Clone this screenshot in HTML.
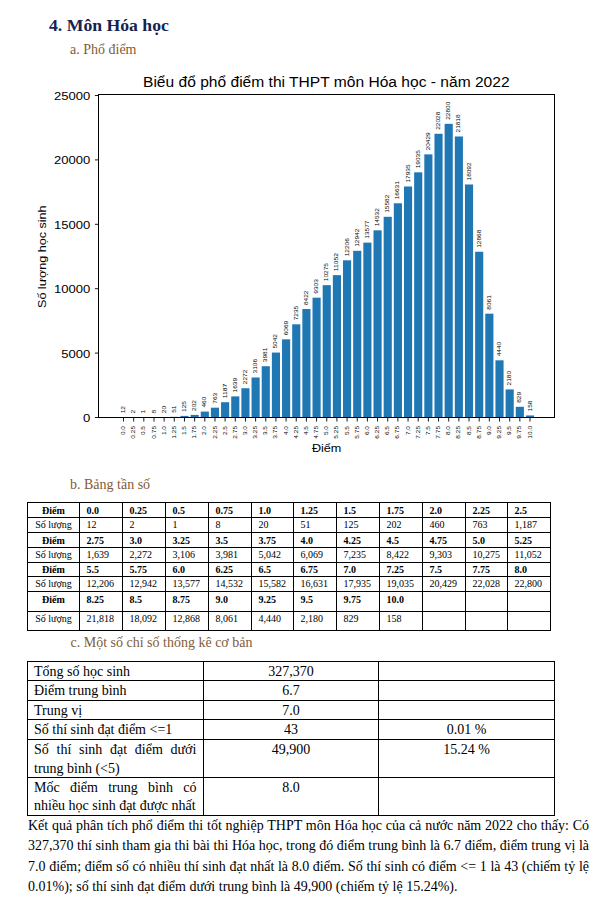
<!DOCTYPE html>
<html><head><meta charset="utf-8"><style>
html,body{margin:0;padding:0;background:#fff;}
body{width:603px;height:908px;position:relative;overflow:hidden;font-family:"Liberation Serif",serif;color:#000;}
.t{position:absolute;white-space:nowrap;}
.h{font-weight:bold;color:#13244f;}
.s{color:#7f5c38;}
.b{font-weight:bold;}
.j{text-align:justify;text-align-last:justify;}
</style></head><body>
<div class="t h" style="left:49px;top:17px;font-size:17.7px;line-height:17.7px;">4. Môn Hóa học</div>
<div class="t s" style="left:70px;top:43px;font-size:14px;line-height:14px;">a. Phổ điểm</div>
<svg width="603" height="470" viewBox="0 0 603 470" style="position:absolute;left:0;top:0" font-family="Liberation Sans, sans-serif" fill="#000">
<rect x="119.44" y="417.35" width="8.13" height="0.15" fill="#1f77b4"/>
<rect x="129.60" y="417.47" width="8.13" height="0.03" fill="#1f77b4"/>
<rect x="139.76" y="417.49" width="8.13" height="0.01" fill="#1f77b4"/>
<rect x="149.92" y="417.40" width="8.13" height="0.10" fill="#1f77b4"/>
<rect x="160.09" y="417.24" width="8.13" height="0.26" fill="#1f77b4"/>
<rect x="170.25" y="416.84" width="8.13" height="0.66" fill="#1f77b4"/>
<rect x="180.41" y="415.89" width="8.13" height="1.61" fill="#1f77b4"/>
<rect x="190.57" y="414.90" width="8.13" height="2.60" fill="#1f77b4"/>
<rect x="200.74" y="411.58" width="8.13" height="5.92" fill="#1f77b4"/>
<rect x="210.90" y="407.67" width="8.13" height="9.83" fill="#1f77b4"/>
<rect x="221.06" y="402.21" width="8.13" height="15.29" fill="#1f77b4"/>
<rect x="231.22" y="396.39" width="8.13" height="21.11" fill="#1f77b4"/>
<rect x="241.38" y="388.24" width="8.13" height="29.26" fill="#1f77b4"/>
<rect x="251.55" y="377.49" width="8.13" height="40.01" fill="#1f77b4"/>
<rect x="261.71" y="366.22" width="8.13" height="51.28" fill="#1f77b4"/>
<rect x="271.87" y="352.56" width="8.13" height="64.94" fill="#1f77b4"/>
<rect x="282.04" y="339.33" width="8.13" height="78.17" fill="#1f77b4"/>
<rect x="292.20" y="324.31" width="8.13" height="93.19" fill="#1f77b4"/>
<rect x="302.36" y="309.02" width="8.13" height="108.48" fill="#1f77b4"/>
<rect x="312.52" y="297.68" width="8.13" height="119.82" fill="#1f77b4"/>
<rect x="322.69" y="285.16" width="8.13" height="132.34" fill="#1f77b4"/>
<rect x="332.85" y="275.15" width="8.13" height="142.35" fill="#1f77b4"/>
<rect x="343.01" y="260.29" width="8.13" height="157.21" fill="#1f77b4"/>
<rect x="353.17" y="250.81" width="8.13" height="166.69" fill="#1f77b4"/>
<rect x="363.33" y="242.63" width="8.13" height="174.87" fill="#1f77b4"/>
<rect x="373.50" y="230.33" width="8.13" height="187.17" fill="#1f77b4"/>
<rect x="383.66" y="216.80" width="8.13" height="200.70" fill="#1f77b4"/>
<rect x="393.82" y="203.29" width="8.13" height="214.21" fill="#1f77b4"/>
<rect x="403.99" y="186.50" width="8.13" height="231.00" fill="#1f77b4"/>
<rect x="414.15" y="172.33" width="8.13" height="245.17" fill="#1f77b4"/>
<rect x="424.31" y="154.37" width="8.13" height="263.13" fill="#1f77b4"/>
<rect x="434.47" y="133.78" width="8.13" height="283.72" fill="#1f77b4"/>
<rect x="444.63" y="123.84" width="8.13" height="293.66" fill="#1f77b4"/>
<rect x="454.80" y="136.48" width="8.13" height="281.02" fill="#1f77b4"/>
<rect x="464.96" y="184.48" width="8.13" height="233.02" fill="#1f77b4"/>
<rect x="475.12" y="251.76" width="8.13" height="165.74" fill="#1f77b4"/>
<rect x="485.28" y="313.67" width="8.13" height="103.83" fill="#1f77b4"/>
<rect x="495.45" y="360.31" width="8.13" height="57.19" fill="#1f77b4"/>
<rect x="505.61" y="389.42" width="8.13" height="28.08" fill="#1f77b4"/>
<rect x="515.77" y="406.82" width="8.13" height="10.68" fill="#1f77b4"/>
<rect x="525.93" y="415.46" width="8.13" height="2.04" fill="#1f77b4"/>
<rect x="98.5" y="94.5" width="456.00" height="323.00" fill="none" stroke="#000" stroke-width="1"/>
<line x1="94.90" y1="417.50" x2="98.5" y2="417.50" stroke="#000" stroke-width="0.9"/>
<text x="90.2" y="422.00" font-size="11.4" text-anchor="end" textLength="7.3" lengthAdjust="spacingAndGlyphs">0</text>
<line x1="94.90" y1="353.10" x2="98.5" y2="353.10" stroke="#000" stroke-width="0.9"/>
<text x="90.2" y="357.60" font-size="11.4" text-anchor="end" textLength="29.0" lengthAdjust="spacingAndGlyphs">5000</text>
<line x1="94.90" y1="288.70" x2="98.5" y2="288.70" stroke="#000" stroke-width="0.9"/>
<text x="90.2" y="293.20" font-size="11.4" text-anchor="end" textLength="36.3" lengthAdjust="spacingAndGlyphs">10000</text>
<line x1="94.90" y1="224.30" x2="98.5" y2="224.30" stroke="#000" stroke-width="0.9"/>
<text x="90.2" y="228.80" font-size="11.4" text-anchor="end" textLength="36.3" lengthAdjust="spacingAndGlyphs">15000</text>
<line x1="94.90" y1="159.90" x2="98.5" y2="159.90" stroke="#000" stroke-width="0.9"/>
<text x="90.2" y="164.40" font-size="11.4" text-anchor="end" textLength="36.3" lengthAdjust="spacingAndGlyphs">20000</text>
<line x1="94.90" y1="95.50" x2="98.5" y2="95.50" stroke="#000" stroke-width="0.9"/>
<text x="90.2" y="100.00" font-size="11.4" text-anchor="end" textLength="36.3" lengthAdjust="spacingAndGlyphs">25000</text>
<line x1="123.50" y1="417.5" x2="123.50" y2="421.50" stroke="#000" stroke-width="0.9"/>
<text transform="translate(125.05,426) rotate(-90)" font-size="5.7" text-anchor="end" textLength="9.1" lengthAdjust="spacingAndGlyphs">0.0</text>
<text transform="translate(125.05,413.35) rotate(-90)" font-size="5.7" textLength="7.3" lengthAdjust="spacingAndGlyphs">12</text>
<line x1="133.66" y1="417.5" x2="133.66" y2="421.50" stroke="#000" stroke-width="0.9"/>
<text transform="translate(135.21,426) rotate(-90)" font-size="5.7" text-anchor="end" textLength="12.7" lengthAdjust="spacingAndGlyphs">0.25</text>
<text transform="translate(135.21,413.47) rotate(-90)" font-size="5.7" textLength="3.6" lengthAdjust="spacingAndGlyphs">2</text>
<line x1="143.82" y1="417.5" x2="143.82" y2="421.50" stroke="#000" stroke-width="0.9"/>
<text transform="translate(145.38,426) rotate(-90)" font-size="5.7" text-anchor="end" textLength="9.1" lengthAdjust="spacingAndGlyphs">0.5</text>
<text transform="translate(145.38,413.49) rotate(-90)" font-size="5.7" textLength="3.6" lengthAdjust="spacingAndGlyphs">1</text>
<line x1="153.99" y1="417.5" x2="153.99" y2="421.50" stroke="#000" stroke-width="0.9"/>
<text transform="translate(155.54,426) rotate(-90)" font-size="5.7" text-anchor="end" textLength="12.7" lengthAdjust="spacingAndGlyphs">0.75</text>
<text transform="translate(155.54,413.40) rotate(-90)" font-size="5.7" textLength="3.6" lengthAdjust="spacingAndGlyphs">8</text>
<line x1="164.15" y1="417.5" x2="164.15" y2="421.50" stroke="#000" stroke-width="0.9"/>
<text transform="translate(165.70,426) rotate(-90)" font-size="5.7" text-anchor="end" textLength="9.1" lengthAdjust="spacingAndGlyphs">1.0</text>
<text transform="translate(165.70,413.24) rotate(-90)" font-size="5.7" textLength="7.3" lengthAdjust="spacingAndGlyphs">20</text>
<line x1="174.31" y1="417.5" x2="174.31" y2="421.50" stroke="#000" stroke-width="0.9"/>
<text transform="translate(175.86,426) rotate(-90)" font-size="5.7" text-anchor="end" textLength="12.7" lengthAdjust="spacingAndGlyphs">1.25</text>
<text transform="translate(175.86,412.84) rotate(-90)" font-size="5.7" textLength="7.3" lengthAdjust="spacingAndGlyphs">51</text>
<line x1="184.47" y1="417.5" x2="184.47" y2="421.50" stroke="#000" stroke-width="0.9"/>
<text transform="translate(186.03,426) rotate(-90)" font-size="5.7" text-anchor="end" textLength="9.1" lengthAdjust="spacingAndGlyphs">1.5</text>
<text transform="translate(186.03,411.89) rotate(-90)" font-size="5.7" textLength="10.9" lengthAdjust="spacingAndGlyphs">125</text>
<line x1="194.64" y1="417.5" x2="194.64" y2="421.50" stroke="#000" stroke-width="0.9"/>
<text transform="translate(196.19,426) rotate(-90)" font-size="5.7" text-anchor="end" textLength="12.7" lengthAdjust="spacingAndGlyphs">1.75</text>
<text transform="translate(196.19,410.90) rotate(-90)" font-size="5.7" textLength="10.9" lengthAdjust="spacingAndGlyphs">202</text>
<line x1="204.80" y1="417.5" x2="204.80" y2="421.50" stroke="#000" stroke-width="0.9"/>
<text transform="translate(206.35,426) rotate(-90)" font-size="5.7" text-anchor="end" textLength="9.1" lengthAdjust="spacingAndGlyphs">2.0</text>
<text transform="translate(206.35,407.58) rotate(-90)" font-size="5.7" textLength="10.9" lengthAdjust="spacingAndGlyphs">460</text>
<line x1="214.96" y1="417.5" x2="214.96" y2="421.50" stroke="#000" stroke-width="0.9"/>
<text transform="translate(216.51,426) rotate(-90)" font-size="5.7" text-anchor="end" textLength="12.7" lengthAdjust="spacingAndGlyphs">2.25</text>
<text transform="translate(216.51,403.67) rotate(-90)" font-size="5.7" textLength="10.9" lengthAdjust="spacingAndGlyphs">763</text>
<line x1="225.12" y1="417.5" x2="225.12" y2="421.50" stroke="#000" stroke-width="0.9"/>
<text transform="translate(226.68,426) rotate(-90)" font-size="5.7" text-anchor="end" textLength="9.1" lengthAdjust="spacingAndGlyphs">2.5</text>
<text transform="translate(226.68,398.21) rotate(-90)" font-size="5.7" textLength="14.5" lengthAdjust="spacingAndGlyphs">1187</text>
<line x1="235.29" y1="417.5" x2="235.29" y2="421.50" stroke="#000" stroke-width="0.9"/>
<text transform="translate(236.84,426) rotate(-90)" font-size="5.7" text-anchor="end" textLength="12.7" lengthAdjust="spacingAndGlyphs">2.75</text>
<text transform="translate(236.84,392.39) rotate(-90)" font-size="5.7" textLength="14.5" lengthAdjust="spacingAndGlyphs">1639</text>
<line x1="245.45" y1="417.5" x2="245.45" y2="421.50" stroke="#000" stroke-width="0.9"/>
<text transform="translate(247.00,426) rotate(-90)" font-size="5.7" text-anchor="end" textLength="9.1" lengthAdjust="spacingAndGlyphs">3.0</text>
<text transform="translate(247.00,384.24) rotate(-90)" font-size="5.7" textLength="14.5" lengthAdjust="spacingAndGlyphs">2272</text>
<line x1="255.61" y1="417.5" x2="255.61" y2="421.50" stroke="#000" stroke-width="0.9"/>
<text transform="translate(257.16,426) rotate(-90)" font-size="5.7" text-anchor="end" textLength="12.7" lengthAdjust="spacingAndGlyphs">3.25</text>
<text transform="translate(257.16,373.49) rotate(-90)" font-size="5.7" textLength="14.5" lengthAdjust="spacingAndGlyphs">3106</text>
<line x1="265.77" y1="417.5" x2="265.77" y2="421.50" stroke="#000" stroke-width="0.9"/>
<text transform="translate(267.32,426) rotate(-90)" font-size="5.7" text-anchor="end" textLength="9.1" lengthAdjust="spacingAndGlyphs">3.5</text>
<text transform="translate(267.32,362.22) rotate(-90)" font-size="5.7" textLength="14.5" lengthAdjust="spacingAndGlyphs">3981</text>
<line x1="275.94" y1="417.5" x2="275.94" y2="421.50" stroke="#000" stroke-width="0.9"/>
<text transform="translate(277.49,426) rotate(-90)" font-size="5.7" text-anchor="end" textLength="12.7" lengthAdjust="spacingAndGlyphs">3.75</text>
<text transform="translate(277.49,348.56) rotate(-90)" font-size="5.7" textLength="14.5" lengthAdjust="spacingAndGlyphs">5042</text>
<line x1="286.10" y1="417.5" x2="286.10" y2="421.50" stroke="#000" stroke-width="0.9"/>
<text transform="translate(287.65,426) rotate(-90)" font-size="5.7" text-anchor="end" textLength="9.1" lengthAdjust="spacingAndGlyphs">4.0</text>
<text transform="translate(287.65,335.33) rotate(-90)" font-size="5.7" textLength="14.5" lengthAdjust="spacingAndGlyphs">6069</text>
<line x1="296.26" y1="417.5" x2="296.26" y2="421.50" stroke="#000" stroke-width="0.9"/>
<text transform="translate(297.81,426) rotate(-90)" font-size="5.7" text-anchor="end" textLength="12.7" lengthAdjust="spacingAndGlyphs">4.25</text>
<text transform="translate(297.81,320.31) rotate(-90)" font-size="5.7" textLength="14.5" lengthAdjust="spacingAndGlyphs">7235</text>
<line x1="306.42" y1="417.5" x2="306.42" y2="421.50" stroke="#000" stroke-width="0.9"/>
<text transform="translate(307.97,426) rotate(-90)" font-size="5.7" text-anchor="end" textLength="9.1" lengthAdjust="spacingAndGlyphs">4.5</text>
<text transform="translate(307.97,305.02) rotate(-90)" font-size="5.7" textLength="14.5" lengthAdjust="spacingAndGlyphs">8422</text>
<line x1="316.59" y1="417.5" x2="316.59" y2="421.50" stroke="#000" stroke-width="0.9"/>
<text transform="translate(318.14,426) rotate(-90)" font-size="5.7" text-anchor="end" textLength="12.7" lengthAdjust="spacingAndGlyphs">4.75</text>
<text transform="translate(318.14,293.68) rotate(-90)" font-size="5.7" textLength="14.5" lengthAdjust="spacingAndGlyphs">9303</text>
<line x1="326.75" y1="417.5" x2="326.75" y2="421.50" stroke="#000" stroke-width="0.9"/>
<text transform="translate(328.30,426) rotate(-90)" font-size="5.7" text-anchor="end" textLength="9.1" lengthAdjust="spacingAndGlyphs">5.0</text>
<text transform="translate(328.30,281.16) rotate(-90)" font-size="5.7" textLength="18.1" lengthAdjust="spacingAndGlyphs">10275</text>
<line x1="336.91" y1="417.5" x2="336.91" y2="421.50" stroke="#000" stroke-width="0.9"/>
<text transform="translate(338.46,426) rotate(-90)" font-size="5.7" text-anchor="end" textLength="12.7" lengthAdjust="spacingAndGlyphs">5.25</text>
<text transform="translate(338.46,271.15) rotate(-90)" font-size="5.7" textLength="18.1" lengthAdjust="spacingAndGlyphs">11052</text>
<line x1="347.07" y1="417.5" x2="347.07" y2="421.50" stroke="#000" stroke-width="0.9"/>
<text transform="translate(348.62,426) rotate(-90)" font-size="5.7" text-anchor="end" textLength="9.1" lengthAdjust="spacingAndGlyphs">5.5</text>
<text transform="translate(348.62,256.29) rotate(-90)" font-size="5.7" textLength="18.1" lengthAdjust="spacingAndGlyphs">12206</text>
<line x1="357.24" y1="417.5" x2="357.24" y2="421.50" stroke="#000" stroke-width="0.9"/>
<text transform="translate(358.79,426) rotate(-90)" font-size="5.7" text-anchor="end" textLength="12.7" lengthAdjust="spacingAndGlyphs">5.75</text>
<text transform="translate(358.79,246.81) rotate(-90)" font-size="5.7" textLength="18.1" lengthAdjust="spacingAndGlyphs">12942</text>
<line x1="367.40" y1="417.5" x2="367.40" y2="421.50" stroke="#000" stroke-width="0.9"/>
<text transform="translate(368.95,426) rotate(-90)" font-size="5.7" text-anchor="end" textLength="9.1" lengthAdjust="spacingAndGlyphs">6.0</text>
<text transform="translate(368.95,238.63) rotate(-90)" font-size="5.7" textLength="18.1" lengthAdjust="spacingAndGlyphs">13577</text>
<line x1="377.56" y1="417.5" x2="377.56" y2="421.50" stroke="#000" stroke-width="0.9"/>
<text transform="translate(379.11,426) rotate(-90)" font-size="5.7" text-anchor="end" textLength="12.7" lengthAdjust="spacingAndGlyphs">6.25</text>
<text transform="translate(379.11,226.33) rotate(-90)" font-size="5.7" textLength="18.1" lengthAdjust="spacingAndGlyphs">14532</text>
<line x1="387.72" y1="417.5" x2="387.72" y2="421.50" stroke="#000" stroke-width="0.9"/>
<text transform="translate(389.27,426) rotate(-90)" font-size="5.7" text-anchor="end" textLength="9.1" lengthAdjust="spacingAndGlyphs">6.5</text>
<text transform="translate(389.27,212.80) rotate(-90)" font-size="5.7" textLength="18.1" lengthAdjust="spacingAndGlyphs">15582</text>
<line x1="397.89" y1="417.5" x2="397.89" y2="421.50" stroke="#000" stroke-width="0.9"/>
<text transform="translate(399.44,426) rotate(-90)" font-size="5.7" text-anchor="end" textLength="12.7" lengthAdjust="spacingAndGlyphs">6.75</text>
<text transform="translate(399.44,199.29) rotate(-90)" font-size="5.7" textLength="18.1" lengthAdjust="spacingAndGlyphs">16631</text>
<line x1="408.05" y1="417.5" x2="408.05" y2="421.50" stroke="#000" stroke-width="0.9"/>
<text transform="translate(409.60,426) rotate(-90)" font-size="5.7" text-anchor="end" textLength="9.1" lengthAdjust="spacingAndGlyphs">7.0</text>
<text transform="translate(409.60,182.50) rotate(-90)" font-size="5.7" textLength="18.1" lengthAdjust="spacingAndGlyphs">17935</text>
<line x1="418.21" y1="417.5" x2="418.21" y2="421.50" stroke="#000" stroke-width="0.9"/>
<text transform="translate(419.76,426) rotate(-90)" font-size="5.7" text-anchor="end" textLength="12.7" lengthAdjust="spacingAndGlyphs">7.25</text>
<text transform="translate(419.76,168.33) rotate(-90)" font-size="5.7" textLength="18.1" lengthAdjust="spacingAndGlyphs">19035</text>
<line x1="428.38" y1="417.5" x2="428.38" y2="421.50" stroke="#000" stroke-width="0.9"/>
<text transform="translate(429.93,426) rotate(-90)" font-size="5.7" text-anchor="end" textLength="9.1" lengthAdjust="spacingAndGlyphs">7.5</text>
<text transform="translate(429.93,150.37) rotate(-90)" font-size="5.7" textLength="18.1" lengthAdjust="spacingAndGlyphs">20429</text>
<line x1="438.54" y1="417.5" x2="438.54" y2="421.50" stroke="#000" stroke-width="0.9"/>
<text transform="translate(440.09,426) rotate(-90)" font-size="5.7" text-anchor="end" textLength="12.7" lengthAdjust="spacingAndGlyphs">7.75</text>
<text transform="translate(440.09,129.78) rotate(-90)" font-size="5.7" textLength="18.1" lengthAdjust="spacingAndGlyphs">22028</text>
<line x1="448.70" y1="417.5" x2="448.70" y2="421.50" stroke="#000" stroke-width="0.9"/>
<text transform="translate(450.25,426) rotate(-90)" font-size="5.7" text-anchor="end" textLength="9.1" lengthAdjust="spacingAndGlyphs">8.0</text>
<text transform="translate(450.25,119.84) rotate(-90)" font-size="5.7" textLength="18.1" lengthAdjust="spacingAndGlyphs">22800</text>
<line x1="458.86" y1="417.5" x2="458.86" y2="421.50" stroke="#000" stroke-width="0.9"/>
<text transform="translate(460.41,426) rotate(-90)" font-size="5.7" text-anchor="end" textLength="12.7" lengthAdjust="spacingAndGlyphs">8.25</text>
<text transform="translate(460.41,132.48) rotate(-90)" font-size="5.7" textLength="18.1" lengthAdjust="spacingAndGlyphs">21818</text>
<line x1="469.02" y1="417.5" x2="469.02" y2="421.50" stroke="#000" stroke-width="0.9"/>
<text transform="translate(470.57,426) rotate(-90)" font-size="5.7" text-anchor="end" textLength="9.1" lengthAdjust="spacingAndGlyphs">8.5</text>
<text transform="translate(470.57,180.48) rotate(-90)" font-size="5.7" textLength="18.1" lengthAdjust="spacingAndGlyphs">18092</text>
<line x1="479.19" y1="417.5" x2="479.19" y2="421.50" stroke="#000" stroke-width="0.9"/>
<text transform="translate(480.74,426) rotate(-90)" font-size="5.7" text-anchor="end" textLength="12.7" lengthAdjust="spacingAndGlyphs">8.75</text>
<text transform="translate(480.74,247.76) rotate(-90)" font-size="5.7" textLength="18.1" lengthAdjust="spacingAndGlyphs">12868</text>
<line x1="489.35" y1="417.5" x2="489.35" y2="421.50" stroke="#000" stroke-width="0.9"/>
<text transform="translate(490.90,426) rotate(-90)" font-size="5.7" text-anchor="end" textLength="9.1" lengthAdjust="spacingAndGlyphs">9.0</text>
<text transform="translate(490.90,309.67) rotate(-90)" font-size="5.7" textLength="14.5" lengthAdjust="spacingAndGlyphs">8061</text>
<line x1="499.51" y1="417.5" x2="499.51" y2="421.50" stroke="#000" stroke-width="0.9"/>
<text transform="translate(501.06,426) rotate(-90)" font-size="5.7" text-anchor="end" textLength="12.7" lengthAdjust="spacingAndGlyphs">9.25</text>
<text transform="translate(501.06,356.31) rotate(-90)" font-size="5.7" textLength="14.5" lengthAdjust="spacingAndGlyphs">4440</text>
<line x1="509.68" y1="417.5" x2="509.68" y2="421.50" stroke="#000" stroke-width="0.9"/>
<text transform="translate(511.23,426) rotate(-90)" font-size="5.7" text-anchor="end" textLength="9.1" lengthAdjust="spacingAndGlyphs">9.5</text>
<text transform="translate(511.23,385.42) rotate(-90)" font-size="5.7" textLength="14.5" lengthAdjust="spacingAndGlyphs">2180</text>
<line x1="519.84" y1="417.5" x2="519.84" y2="421.50" stroke="#000" stroke-width="0.9"/>
<text transform="translate(521.39,426) rotate(-90)" font-size="5.7" text-anchor="end" textLength="12.7" lengthAdjust="spacingAndGlyphs">9.75</text>
<text transform="translate(521.39,402.82) rotate(-90)" font-size="5.7" textLength="10.9" lengthAdjust="spacingAndGlyphs">829</text>
<line x1="530.00" y1="417.5" x2="530.00" y2="421.50" stroke="#000" stroke-width="0.9"/>
<text transform="translate(531.55,426) rotate(-90)" font-size="5.7" text-anchor="end" textLength="12.7" lengthAdjust="spacingAndGlyphs">10.0</text>
<text transform="translate(531.55,411.46) rotate(-90)" font-size="5.7" textLength="10.9" lengthAdjust="spacingAndGlyphs">158</text>
<text x="143.0" y="87.2" font-size="13.8" textLength="366.6" lengthAdjust="spacingAndGlyphs">Biểu đổ phổ điểm thi THPT môn Hóa học - năm 2022</text>
<text x="311.9" y="452.2" font-size="11.6" textLength="29.5" lengthAdjust="spacingAndGlyphs">Điểm</text>
<text transform="translate(46.3,308.0) rotate(-90)" font-size="11.8" textLength="102.6" lengthAdjust="spacingAndGlyphs">Số lượng học sinh</text>
</svg>
<div class="t s" style="left:70px;top:478px;font-size:14px;line-height:14px;">b. Bảng tần số</div>
<svg width="603" height="908" style="position:absolute;left:0;top:0">
<line x1="27.5" y1="502.0" x2="27.5" y2="631.0" stroke="#000" stroke-width="1"/>
<line x1="79.5" y1="502.0" x2="79.5" y2="631.0" stroke="#000" stroke-width="1"/>
<line x1="122.5" y1="502.0" x2="122.5" y2="631.0" stroke="#000" stroke-width="1"/>
<line x1="165.5" y1="502.0" x2="165.5" y2="631.0" stroke="#000" stroke-width="1"/>
<line x1="208.5" y1="502.0" x2="208.5" y2="631.0" stroke="#000" stroke-width="1"/>
<line x1="251.5" y1="502.0" x2="251.5" y2="631.0" stroke="#000" stroke-width="1"/>
<line x1="293.5" y1="502.0" x2="293.5" y2="631.0" stroke="#000" stroke-width="1"/>
<line x1="336.5" y1="502.0" x2="336.5" y2="631.0" stroke="#000" stroke-width="1"/>
<line x1="379.5" y1="502.0" x2="379.5" y2="631.0" stroke="#000" stroke-width="1"/>
<line x1="422.5" y1="502.0" x2="422.5" y2="631.0" stroke="#000" stroke-width="1"/>
<line x1="465.5" y1="502.0" x2="465.5" y2="631.0" stroke="#000" stroke-width="1"/>
<line x1="507.5" y1="502.0" x2="507.5" y2="631.0" stroke="#000" stroke-width="1"/>
<line x1="550.5" y1="502.0" x2="550.5" y2="631.0" stroke="#000" stroke-width="1"/>
<line x1="27.0" y1="502.5" x2="551.0" y2="502.5" stroke="#000" stroke-width="1"/>
<line x1="27.0" y1="517.5" x2="551.0" y2="517.5" stroke="#000" stroke-width="1"/>
<line x1="27.0" y1="532.5" x2="551.0" y2="532.5" stroke="#000" stroke-width="1"/>
<line x1="27.0" y1="547.5" x2="551.0" y2="547.5" stroke="#000" stroke-width="1"/>
<line x1="27.0" y1="562.5" x2="551.0" y2="562.5" stroke="#000" stroke-width="1"/>
<line x1="27.0" y1="576.5" x2="551.0" y2="576.5" stroke="#000" stroke-width="1"/>
<line x1="27.0" y1="591.5" x2="551.0" y2="591.5" stroke="#000" stroke-width="1"/>
<line x1="27.0" y1="611.5" x2="551.0" y2="611.5" stroke="#000" stroke-width="1"/>
<line x1="27.0" y1="630.5" x2="551.0" y2="630.5" stroke="#000" stroke-width="1"/>
</svg><div class="t b" style="left:27.5px;top:506px;font-size:10px;line-height:10px;width:52.0px;text-align:center;">Điểm</div><div class="t " style="left:27.5px;top:520px;font-size:10px;line-height:10px;width:52.0px;text-align:center;">Số lượng</div><div class="t b" style="left:86.5px;top:506px;font-size:10px;line-height:10px;">0.0</div><div class="t " style="left:86.5px;top:520px;font-size:10px;line-height:10px;">12</div><div class="t b" style="left:129.5px;top:506px;font-size:10px;line-height:10px;">0.25</div><div class="t " style="left:129.5px;top:520px;font-size:10px;line-height:10px;">2</div><div class="t b" style="left:172.5px;top:506px;font-size:10px;line-height:10px;">0.5</div><div class="t " style="left:172.5px;top:520px;font-size:10px;line-height:10px;">1</div><div class="t b" style="left:215.5px;top:506px;font-size:10px;line-height:10px;">0.75</div><div class="t " style="left:215.5px;top:520px;font-size:10px;line-height:10px;">8</div><div class="t b" style="left:258.5px;top:506px;font-size:10px;line-height:10px;">1.0</div><div class="t " style="left:258.5px;top:520px;font-size:10px;line-height:10px;">20</div><div class="t b" style="left:300.5px;top:506px;font-size:10px;line-height:10px;">1.25</div><div class="t " style="left:300.5px;top:520px;font-size:10px;line-height:10px;">51</div><div class="t b" style="left:343.5px;top:506px;font-size:10px;line-height:10px;">1.5</div><div class="t " style="left:343.5px;top:520px;font-size:10px;line-height:10px;">125</div><div class="t b" style="left:386.5px;top:506px;font-size:10px;line-height:10px;">1.75</div><div class="t " style="left:386.5px;top:520px;font-size:10px;line-height:10px;">202</div><div class="t b" style="left:429.5px;top:506px;font-size:10px;line-height:10px;">2.0</div><div class="t " style="left:429.5px;top:520px;font-size:10px;line-height:10px;">460</div><div class="t b" style="left:472.5px;top:506px;font-size:10px;line-height:10px;">2.25</div><div class="t " style="left:472.5px;top:520px;font-size:10px;line-height:10px;">763</div><div class="t b" style="left:514.5px;top:506px;font-size:10px;line-height:10px;">2.5</div><div class="t " style="left:514.5px;top:520px;font-size:10px;line-height:10px;">1,187</div><div class="t b" style="left:27.5px;top:536px;font-size:10px;line-height:10px;width:52.0px;text-align:center;">Điểm</div><div class="t " style="left:27.5px;top:550px;font-size:10px;line-height:10px;width:52.0px;text-align:center;">Số lượng</div><div class="t b" style="left:86.5px;top:536px;font-size:10px;line-height:10px;">2.75</div><div class="t " style="left:86.5px;top:550px;font-size:10px;line-height:10px;">1,639</div><div class="t b" style="left:129.5px;top:536px;font-size:10px;line-height:10px;">3.0</div><div class="t " style="left:129.5px;top:550px;font-size:10px;line-height:10px;">2,272</div><div class="t b" style="left:172.5px;top:536px;font-size:10px;line-height:10px;">3.25</div><div class="t " style="left:172.5px;top:550px;font-size:10px;line-height:10px;">3,106</div><div class="t b" style="left:215.5px;top:536px;font-size:10px;line-height:10px;">3.5</div><div class="t " style="left:215.5px;top:550px;font-size:10px;line-height:10px;">3,981</div><div class="t b" style="left:258.5px;top:536px;font-size:10px;line-height:10px;">3.75</div><div class="t " style="left:258.5px;top:550px;font-size:10px;line-height:10px;">5,042</div><div class="t b" style="left:300.5px;top:536px;font-size:10px;line-height:10px;">4.0</div><div class="t " style="left:300.5px;top:550px;font-size:10px;line-height:10px;">6,069</div><div class="t b" style="left:343.5px;top:536px;font-size:10px;line-height:10px;">4.25</div><div class="t " style="left:343.5px;top:550px;font-size:10px;line-height:10px;">7,235</div><div class="t b" style="left:386.5px;top:536px;font-size:10px;line-height:10px;">4.5</div><div class="t " style="left:386.5px;top:550px;font-size:10px;line-height:10px;">8,422</div><div class="t b" style="left:429.5px;top:536px;font-size:10px;line-height:10px;">4.75</div><div class="t " style="left:429.5px;top:550px;font-size:10px;line-height:10px;">9,303</div><div class="t b" style="left:472.5px;top:536px;font-size:10px;line-height:10px;">5.0</div><div class="t " style="left:472.5px;top:550px;font-size:10px;line-height:10px;">10,275</div><div class="t b" style="left:514.5px;top:536px;font-size:10px;line-height:10px;">5.25</div><div class="t " style="left:514.5px;top:550px;font-size:10px;line-height:10px;">11,052</div><div class="t b" style="left:27.5px;top:565px;font-size:10px;line-height:10px;width:52.0px;text-align:center;">Điểm</div><div class="t " style="left:27.5px;top:579px;font-size:10px;line-height:10px;width:52.0px;text-align:center;">Số lượng</div><div class="t b" style="left:86.5px;top:565px;font-size:10px;line-height:10px;">5.5</div><div class="t " style="left:86.5px;top:579px;font-size:10px;line-height:10px;">12,206</div><div class="t b" style="left:129.5px;top:565px;font-size:10px;line-height:10px;">5.75</div><div class="t " style="left:129.5px;top:579px;font-size:10px;line-height:10px;">12,942</div><div class="t b" style="left:172.5px;top:565px;font-size:10px;line-height:10px;">6.0</div><div class="t " style="left:172.5px;top:579px;font-size:10px;line-height:10px;">13,577</div><div class="t b" style="left:215.5px;top:565px;font-size:10px;line-height:10px;">6.25</div><div class="t " style="left:215.5px;top:579px;font-size:10px;line-height:10px;">14,532</div><div class="t b" style="left:258.5px;top:565px;font-size:10px;line-height:10px;">6.5</div><div class="t " style="left:258.5px;top:579px;font-size:10px;line-height:10px;">15,582</div><div class="t b" style="left:300.5px;top:565px;font-size:10px;line-height:10px;">6.75</div><div class="t " style="left:300.5px;top:579px;font-size:10px;line-height:10px;">16,631</div><div class="t b" style="left:343.5px;top:565px;font-size:10px;line-height:10px;">7.0</div><div class="t " style="left:343.5px;top:579px;font-size:10px;line-height:10px;">17,935</div><div class="t b" style="left:386.5px;top:565px;font-size:10px;line-height:10px;">7.25</div><div class="t " style="left:386.5px;top:579px;font-size:10px;line-height:10px;">19,035</div><div class="t b" style="left:429.5px;top:565px;font-size:10px;line-height:10px;">7.5</div><div class="t " style="left:429.5px;top:579px;font-size:10px;line-height:10px;">20,429</div><div class="t b" style="left:472.5px;top:565px;font-size:10px;line-height:10px;">7.75</div><div class="t " style="left:472.5px;top:579px;font-size:10px;line-height:10px;">22,028</div><div class="t b" style="left:514.5px;top:565px;font-size:10px;line-height:10px;">8.0</div><div class="t " style="left:514.5px;top:579px;font-size:10px;line-height:10px;">22,800</div><div class="t b" style="left:27.5px;top:595px;font-size:10px;line-height:10px;width:52.0px;text-align:center;">Điểm</div><div class="t " style="left:27.5px;top:614px;font-size:10px;line-height:10px;width:52.0px;text-align:center;">Số lượng</div><div class="t b" style="left:86.5px;top:595px;font-size:10px;line-height:10px;">8.25</div><div class="t " style="left:86.5px;top:614px;font-size:10px;line-height:10px;">21,818</div><div class="t b" style="left:129.5px;top:595px;font-size:10px;line-height:10px;">8.5</div><div class="t " style="left:129.5px;top:614px;font-size:10px;line-height:10px;">18,092</div><div class="t b" style="left:172.5px;top:595px;font-size:10px;line-height:10px;">8.75</div><div class="t " style="left:172.5px;top:614px;font-size:10px;line-height:10px;">12,868</div><div class="t b" style="left:215.5px;top:595px;font-size:10px;line-height:10px;">9.0</div><div class="t " style="left:215.5px;top:614px;font-size:10px;line-height:10px;">8,061</div><div class="t b" style="left:258.5px;top:595px;font-size:10px;line-height:10px;">9.25</div><div class="t " style="left:258.5px;top:614px;font-size:10px;line-height:10px;">4,440</div><div class="t b" style="left:300.5px;top:595px;font-size:10px;line-height:10px;">9.5</div><div class="t " style="left:300.5px;top:614px;font-size:10px;line-height:10px;">2,180</div><div class="t b" style="left:343.5px;top:595px;font-size:10px;line-height:10px;">9.75</div><div class="t " style="left:343.5px;top:614px;font-size:10px;line-height:10px;">829</div><div class="t b" style="left:386.5px;top:595px;font-size:10px;line-height:10px;">10.0</div><div class="t " style="left:386.5px;top:614px;font-size:10px;line-height:10px;">158</div>
<div class="t s" style="left:70.5px;top:636px;font-size:14px;line-height:14px;">c. Một số chỉ số thống kê cơ bản</div>
<svg width="603" height="908" style="position:absolute;left:0;top:0">
<line x1="27.5" y1="661.0" x2="27.5" y2="816.0" stroke="#000" stroke-width="1"/>
<line x1="203.5" y1="661.0" x2="203.5" y2="816.0" stroke="#000" stroke-width="1"/>
<line x1="378.5" y1="661.0" x2="378.5" y2="816.0" stroke="#000" stroke-width="1"/>
<line x1="554.5" y1="661.0" x2="554.5" y2="816.0" stroke="#000" stroke-width="1"/>
<line x1="27.0" y1="661.5" x2="555.0" y2="661.5" stroke="#000" stroke-width="1"/>
<line x1="27.0" y1="680.5" x2="555.0" y2="680.5" stroke="#000" stroke-width="1"/>
<line x1="27.0" y1="700.5" x2="555.0" y2="700.5" stroke="#000" stroke-width="1"/>
<line x1="27.0" y1="719.5" x2="555.0" y2="719.5" stroke="#000" stroke-width="1"/>
<line x1="27.0" y1="739.5" x2="555.0" y2="739.5" stroke="#000" stroke-width="1"/>
<line x1="27.0" y1="777.5" x2="555.0" y2="777.5" stroke="#000" stroke-width="1"/>
<line x1="27.0" y1="815.5" x2="555.0" y2="815.5" stroke="#000" stroke-width="1"/>
</svg><div class="t " style="left:34px;top:665px;font-size:14px;line-height:14px;">Tổng số học sinh</div><div class="t " style="left:203.5px;top:665px;font-size:14px;line-height:14px;width:175.0px;text-align:center;">327,370</div><div class="t " style="left:34px;top:684px;font-size:14px;line-height:14px;">Điểm trung bình</div><div class="t " style="left:203.5px;top:684px;font-size:14px;line-height:14px;width:175.0px;text-align:center;">6.7</div><div class="t " style="left:34px;top:704px;font-size:14px;line-height:14px;">Trung vị</div><div class="t " style="left:203.5px;top:704px;font-size:14px;line-height:14px;width:175.0px;text-align:center;">7.0</div><div class="t " style="left:34px;top:723px;font-size:14px;line-height:14px;">Số thí sinh đạt điểm &lt;=1</div><div class="t " style="left:203.5px;top:723px;font-size:14px;line-height:14px;width:175.0px;text-align:center;">43</div><div class="t " style="left:378.5px;top:723px;font-size:14px;line-height:14px;width:176.0px;text-align:center;">0.01 %</div><div class="t j" style="left:34px;top:743px;font-size:14px;line-height:14px;width:162.4px;">Số thí sinh đạt điểm dưới</div><div class="t " style="left:34px;top:762px;font-size:14px;line-height:14px;">trung bình (&lt;5)</div><div class="t " style="left:203.5px;top:743px;font-size:14px;line-height:14px;width:175.0px;text-align:center;">49,900</div><div class="t " style="left:378.5px;top:743px;font-size:14px;line-height:14px;width:176.0px;text-align:center;">15.24 %</div><div class="t j" style="left:34px;top:781px;font-size:14px;line-height:14px;width:162.4px;">Mốc điểm trung bình có</div><div class="t " style="left:34px;top:799px;font-size:14px;line-height:14px;">nhiều học sinh đạt được nhất</div><div class="t " style="left:203.5px;top:781px;font-size:14px;line-height:14px;width:175.0px;text-align:center;">8.0</div>
<div class="t j" style="left:28px;top:819px;font-size:14px;line-height:14px;width:561px;">Kết quả phân tích phổ điểm thi tốt nghiệp THPT môn Hóa học của cả nước năm 2022 cho thấy: Có</div><div class="t j" style="left:28px;top:839px;font-size:14px;line-height:14px;width:561px;">327,370 thí sinh tham gia thi bài thi Hóa học, trong đó điểm trung bình là 6.7 điểm, điểm trung vị là</div><div class="t j" style="left:28px;top:860px;font-size:14px;line-height:14px;width:561px;">7.0 điểm; điểm số có nhiều thí sinh đạt nhất là 8.0 điểm. Số thí sinh có điểm &lt;= 1 là 43 (chiếm tỷ lệ</div><div class="t " style="left:28px;top:880px;font-size:14px;line-height:14px;width:561px;">0.01%); số thí sinh đạt điểm dưới trung bình là 49,900 (chiếm tỷ lệ 15.24%).</div>
</body></html>
